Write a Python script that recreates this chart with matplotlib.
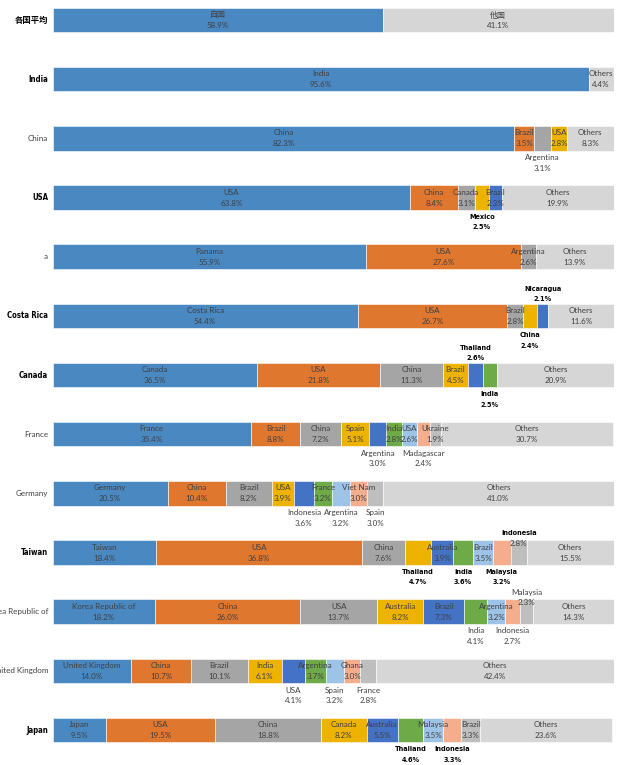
import matplotlib
matplotlib.use("Agg")
import matplotlib.pyplot as plt

# ---------------- data ----------------
row_labels = ["各国平均", "India", "China", "USA", "a", "Costa Rica", "Canada",
              "France", "Germany", "Taiwan", "Korea Republic of", "United Kingdom", "Japan"]
row_bold = [True, True, False, True, False, True, True, False, False, True, False, False, True]

seg_names = [
    ["自国", "他国"],
    ["India", "Others"],
    ["China", "Brazil", "Argentina", "USA", "Others"],
    ["USA", "China", "Canada", "Mexico", "Brazil", "Others"],
    ["Panama", "USA", "Argentina", "Others"],
    ["Costa Rica", "USA", "Brazil", "China", "Nicaragua", "Others"],
    ["Canada", "USA", "China", "Brazil", "Thailand", "India", "Others"],
    ["France", "Brazil", "China", "Spain", "Argentina", "India", "USA", "Madagascar", "Ukraine", "Others"],
    ["Germany", "China", "Brazil", "USA", "Indonesia", "France", "Argentina", "Viet Nam", "Spain", "Others"],
    ["Taiwan", "USA", "China", "Thailand", "Australia", "India", "Brazil", "Malaysia", "Indonesia", "Others"],
    ["Korea Republic of", "China", "USA", "Australia", "Brazil", "India", "Argentina", "Indonesia", "Malaysia", "Others"],
    ["United Kingdom", "China", "Brazil", "India", "USA", "Argentina", "Spain", "Ghana", "France", "Others"],
    ["Japan", "USA", "China", "Canada", "Australia", "Thailand", "Malaysia", "Indonesia", "Brazil", "Others"],
]
seg_values = [
    [58.9, 41.1],
    [95.6, 4.4],
    [82.3, 3.5, 3.1, 2.8, 8.3],
    [63.8, 8.4, 3.1, 2.5, 2.3, 19.9],
    [55.9, 27.6, 2.6, 13.9],
    [54.4, 26.7, 2.8, 2.4, 2.1, 11.6],
    [36.5, 21.8, 11.3, 4.5, 2.6, 2.5, 20.9],
    [35.4, 8.8, 7.2, 5.1, 3.0, 2.8, 2.6, 2.4, 1.9, 30.7],
    [20.5, 10.4, 8.2, 3.9, 3.6, 3.2, 3.2, 3.0, 3.0, 41.0],
    [18.4, 36.8, 7.6, 4.7, 3.9, 3.6, 3.5, 3.2, 2.8, 15.5],
    [18.2, 26.0, 13.7, 8.2, 7.3, 4.1, 3.2, 2.7, 2.3, 14.3],
    [14.0, 10.7, 10.1, 6.1, 4.1, 3.7, 3.2, 3.0, 2.8, 42.4],
    [9.5, 19.5, 18.8, 8.2, 5.5, 4.6, 3.5, 3.3, 3.3, 23.6],
]

# label placement: i = inside, b = below, B = below bold, A = above bold, t = on top edge, T = on top edge bold name
seg_place = [
    "ii",
    "ii",
    "iibii",
    "iiiBii",
    "iiii",
    "iiiBAi",
    "iiiiABi",
    "iiiibiibii",
    "iiiibibibi",
    "iiiBiBiBTi",
    "iiiiibibti",
    "iiiibibibi",
    "iiiiiBiBii",
]

# ---------------- style ----------------
palette = ["#4A88C2", "#E0772F", "#A5A5A5", "#EDB300", "#4472C4",
           "#6EAA48", "#9DC3E6", "#F4AE8E", "#BEBEBE"]
others_color = "#D6D6D6"
txt_color = "#404040"
font_norm = ["Lato", "Noto Sans CJK JP", "DejaVu Sans"]
font_bold = ["DejaVu Sans", "Noto Sans CJK JP"]
fs = 5.8
fs_bold = 5.2

fig = plt.figure(figsize=(6.18, 7.65), dpi=100)
ax = fig.add_axes([52.5 / 618, 0, 561 / 618, 1])
ax.set_xlim(0, 100)
ax.set_ylim(12.59, -0.338)
ax.axis("off")

bar_h = 0.414
px = 1 / 59.17  # data units per pixel vertically


def bold_text(x, y, s, size):
    ax.text(x, y, s, ha="center", va="center", fontsize=size, color="black",
            family=font_bold, fontweight="bold", fontstretch="condensed")


for r, (names, vals, place) in enumerate(zip(seg_names, seg_values, seg_place)):
    left = 0.0
    n = len(vals)
    for k, (nm, v, p) in enumerate(zip(names, vals, place)):
        color = others_color if k == n - 1 else palette[k]
        ax.barh(r, v, left=left, height=bar_h, color=color, edgecolor="white", linewidth=0.4)
        cx = left + v / 2
        pct = f"{v:.1f}%"
        top = r - bar_h / 2
        bot = r + bar_h / 2
        if p == "i":
            ax.text(cx, r - 5.5 * px, nm, ha="center", va="center", fontsize=fs, color=txt_color, family=font_norm)
            ax.text(cx, r + 5.5 * px, pct, ha="center", va="center", fontsize=fs, color=txt_color, family=font_norm)
        elif p == "b":
            ax.text(cx, bot + 7 * px, nm, ha="center", va="center", fontsize=fs, color=txt_color, family=font_norm)
            ax.text(cx, bot + 17.5 * px, pct, ha="center", va="center", fontsize=fs, color=txt_color, family=font_norm)
        elif p == "B":
            bold_text(cx, bot + 7 * px, nm, fs_bold)
            bold_text(cx, bot + 17.5 * px, pct, fs_bold)
        elif p == "A":
            bold_text(cx, top - 15 * px, nm, fs_bold)
            bold_text(cx, top - 4.5 * px, pct, fs_bold)
        elif p in "tT":
            if p == "T":
                bold_text(cx, top - 7 * px, nm, fs_bold)
            else:
                ax.text(cx, top - 7 * px, nm, ha="center", va="center", fontsize=fs, color=txt_color, family=font_norm)
            ax.text(cx, top + 3.5 * px, pct, ha="center", va="center", fontsize=fs, color=txt_color, family=font_norm)
        left += v

for r, (lab, b) in enumerate(zip(row_labels, row_bold)):
    if b:
        size = 6.0 if not lab.isascii() else 5.6
        ax.text(-0.8, r, lab, ha="right", va="center", fontsize=size, color="black",
                family=font_bold, fontweight="bold", fontstretch="condensed", clip_on=False)
    else:
        ax.text(-0.8, r, lab, ha="right", va="center", fontsize=5.8, color=txt_color,
                family=font_norm, clip_on=False)

fig.savefig("out.png", dpi=100)
